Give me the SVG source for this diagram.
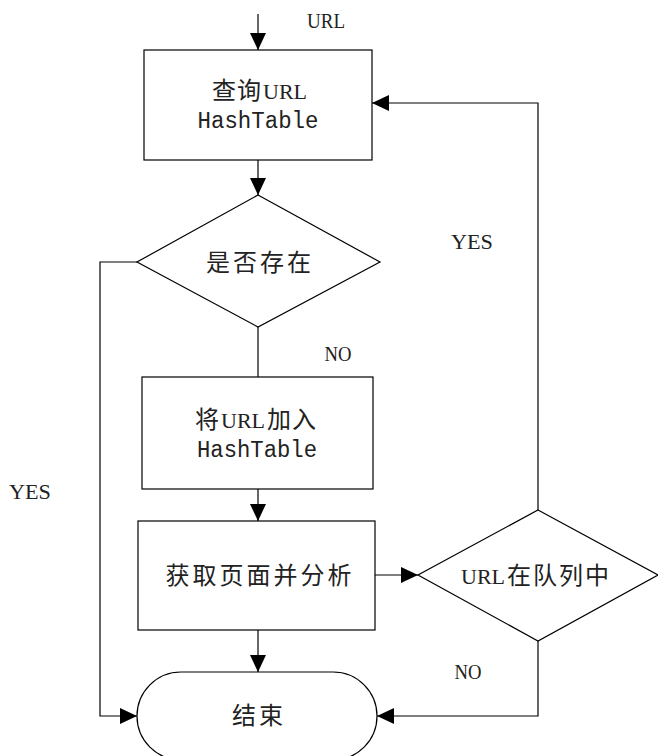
<svg xmlns="http://www.w3.org/2000/svg" width="658" height="756" viewBox="0 0 658 756">
<style>
.s{fill:#fff;stroke:#000;stroke-width:1.2}
.c{fill:none;stroke:#000;stroke-width:1.2}
.t{font-family:"Liberation Serif",serif;font-size:21px;fill:#222;text-anchor:middle}
.z{font-family:"Noto Sans CJK SC",sans-serif;font-size:24px;fill:#222;text-anchor:middle;letter-spacing:3px}
.k{font-family:"Noto Sans CJK SC",sans-serif;font-size:24px;fill:#222;letter-spacing:1px}
.u{font-family:"Liberation Serif",serif;font-size:22px;fill:#222}
.m{font-family:"Liberation Mono",monospace;font-size:23px;fill:#222;text-anchor:middle}
</style>
<defs>
<marker id="a" markerWidth="17" markerHeight="16" refX="17" refY="8" orient="auto" markerUnits="userSpaceOnUse">
<path d="M0,0 L17,8 L0,16 Z" fill="#000"/>
</marker>
</defs>
<g id="connectors">
<line class="c" x1="258" y1="14" x2="258" y2="50" marker-end="url(#a)"/>
<line class="c" x1="258" y1="160" x2="258" y2="195" marker-end="url(#a)"/>
<line class="c" x1="258" y1="327" x2="258" y2="377"/>
<line class="c" x1="258" y1="489" x2="258" y2="521" marker-end="url(#a)"/>
<line class="c" x1="258" y1="630" x2="258" y2="672" marker-end="url(#a)"/>
<line class="c" x1="375" y1="575" x2="418" y2="575" marker-end="url(#a)"/>
<polyline class="c" points="137,262 100,262 100,716 137,716" marker-end="url(#a)"/>
<polyline class="c" points="538,641 538,716 377,716" marker-end="url(#a)"/>
<polyline class="c" points="538,510 538,103 372,103" marker-end="url(#a)"/>
<text class="t" x="326" y="28" textLength="38" lengthAdjust="spacingAndGlyphs">URL</text>
<text class="t" x="472" y="249" textLength="42" lengthAdjust="spacingAndGlyphs">YES</text>
<text class="t" x="338" y="361" textLength="27" lengthAdjust="spacingAndGlyphs">NO</text>
<text class="t" x="30" y="499" textLength="42" lengthAdjust="spacingAndGlyphs">YES</text>
<text class="t" x="468" y="679" textLength="27" lengthAdjust="spacingAndGlyphs">NO</text>
</g>
<g id="query">
<rect class="s" x="144" y="50" width="228" height="110"/>
<text class="k" x="212" y="99">查询</text>
<text class="u" x="263" y="99">URL</text>
<text class="m" x="258" y="128" textLength="121" lengthAdjust="spacingAndGlyphs">HashTable</text>
</g>
<g id="exists">
<polygon class="s" points="258,195 380,262 258,327 137,262"/>
<text class="z" x="260" y="271">是否存在</text>
</g>
<g id="add">
<rect class="s" x="142" y="377" width="231" height="112"/>
<text class="k" x="195" y="428">将</text>
<text class="u" x="221" y="428">URL</text>
<text class="k" x="267" y="428">加入</text>
<text class="m" x="257" y="457" textLength="120" lengthAdjust="spacingAndGlyphs">HashTable</text>
</g>
<g id="fetch">
<rect class="s" x="138" y="521" width="237" height="109"/>
<text class="z" x="260" y="584">获取页面并分析</text>
</g>
<g id="inqueue">
<polygon class="s" points="538,510 658,575 538,641 418,575"/>
<text class="u" x="461" y="584">URL</text>
<text class="k" x="507" y="584" style="letter-spacing:2px">在队列中</text>
</g>
<g id="end">
<rect class="s" x="137" y="672" width="240" height="88" rx="44" ry="44"/>
<text class="z" x="259" y="724">结束</text>
</g>
</svg>
